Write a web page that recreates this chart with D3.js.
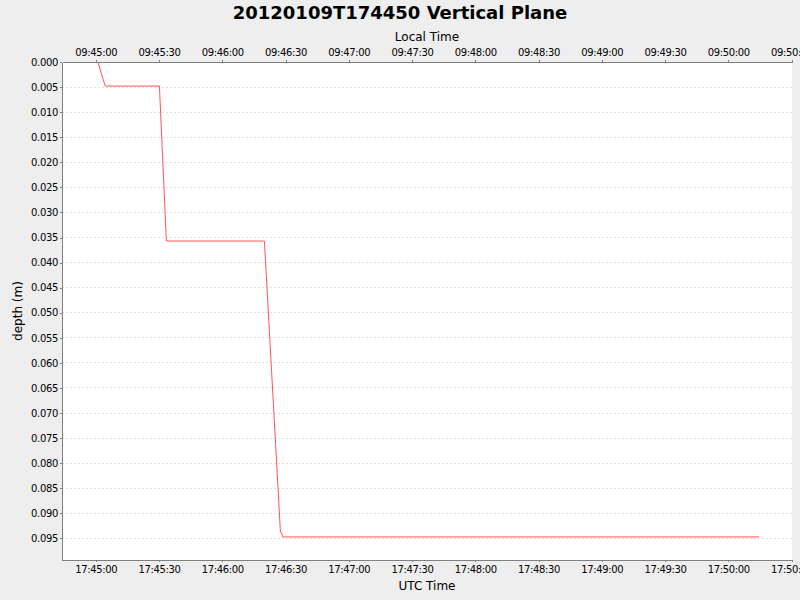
<!DOCTYPE html>
<html>
<head>
<meta charset="utf-8">
<script src="https://cdn.jsdelivr.net/npm/d3@7"></script>
<style>
  body { margin: 0; background: #eeeeee; }
  svg { display: block; font-family: "DejaVu Sans", sans-serif; }
  .tick text { font-family: "DejaVu Sans", sans-serif; font-size: 10px; letter-spacing: -0.35px; fill: #000; }
  .axis-label { font-size: 12px; fill: #000; }
  .chart-title { font-size: 18px; font-weight: bold; fill: #000; }
</style>
</head>
<body>
<div id="chart"></div>
<script>
// samples (UTC)
const sampleTimes = [
  "2012-01-09T17:45:01.0Z",
  "2012-01-09T17:45:04.5Z",
  "2012-01-09T17:45:30.2Z",
  "2012-01-09T17:45:33.5Z",
  "2012-01-09T17:46:20.0Z",
  "2012-01-09T17:46:27.6Z",
  "2012-01-09T17:46:28.2Z",
  "2012-01-09T17:46:28.6Z",
  "2012-01-09T17:50:14.6Z"
];
const sampleDepths = [0.0, 0.0048, 0.0048, 0.0357, 0.0357, 0.0938, 0.0939, 0.0947, 0.0947];

const timeDomain = ["2012-01-09T17:44:44.0Z", "2012-01-09T17:50:30.2Z"];
const depthDomain = [0, 0.0993];
const depthTicks = [0, 0.005, 0.01, 0.015, 0.02, 0.025, 0.03, 0.035, 0.04, 0.045,
  0.05, 0.055, 0.06, 0.065, 0.07, 0.075, 0.08, 0.085, 0.09, 0.095];
const localOffsetHours = -8;

const data = sampleTimes.map((t, i) => ({ time: new Date(t), depth: sampleDepths[i] }));

const width = 800, height = 600;
const plot = { left: 62, right: 792, top: 62, bottom: 560 };

const svg = d3.select("#chart").append("svg")
  .attr("width", width)
  .attr("height", height);

svg.append("rect")
  .attr("width", width).attr("height", height)
  .attr("fill", "#eeeeee");

const x = d3.scaleUtc()
  .domain(timeDomain.map((d) => new Date(d)))
  .range([plot.left, plot.right]);

const y = d3.scaleLinear()
  .domain(depthDomain)
  .range([plot.top, plot.bottom]);

svg.append("rect")
  .attr("x", plot.left).attr("y", plot.top)
  .attr("width", plot.right - plot.left)
  .attr("height", plot.bottom - plot.top)
  .attr("fill", "#ffffff");

// horizontal grid
svg.append("g")
  .selectAll("line")
  .data(depthTicks)
  .join("line")
  .attr("x1", plot.left).attr("x2", plot.right)
  .attr("y1", (d) => y(d)).attr("y2", (d) => y(d))
  .attr("stroke", "#e0e0e0")
  .attr("stroke-width", 1)
  .attr("stroke-dasharray", "2 2")
  .attr("shape-rendering", "crispEdges");

const fmt = d3.utcFormat("%H:%M:%S");
const every30 = d3.utcSecond.every(30);

const styleAxis = (g) => {
  g.attr("font-family", null).attr("font-size", null);
  g.select(".domain").attr("stroke", "#808080").attr("shape-rendering", "crispEdges");
  g.selectAll(".tick line").attr("stroke", "#808080").attr("shape-rendering", "crispEdges");
};

svg.append("g")
  .attr("transform", `translate(0,${plot.bottom})`)
  .call(d3.axisBottom(x).ticks(every30).tickFormat(fmt).tickSize(2).tickSizeOuter(0).tickPadding(4))
  .call(styleAxis);

svg.append("g")
  .attr("transform", `translate(0,${plot.top})`)
  .call(d3.axisTop(x).ticks(every30)
    .tickFormat((d) => fmt(new Date(+d + localOffsetHours * 3600e3)))
    .tickSize(2).tickSizeOuter(0).tickPadding(4))
  .call(styleAxis);

svg.append("g")
  .attr("transform", `translate(${plot.left},0)`)
  .call(d3.axisLeft(y).tickValues(depthTicks).tickFormat(d3.format(".3f")).tickSize(2).tickSizeOuter(0).tickPadding(2))
  .call(styleAxis);

const line = d3.line()
  .x((d) => x(d.time))
  .y((d) => y(d.depth));

svg.append("path")
  .datum(data)
  .attr("fill", "none")
  .attr("stroke", "#ff5555")
  .attr("stroke-width", 1)
  .attr("d", line);

svg.append("text")
  .attr("class", "chart-title")
  .attr("x", width / 2)
  .attr("y", 19)
  .attr("text-anchor", "middle")
  .text("20120109T174450 Vertical Plane");

svg.append("text")
  .attr("class", "axis-label")
  .attr("x", (plot.left + plot.right) / 2)
  .attr("y", 41)
  .attr("text-anchor", "middle")
  .text("Local Time");

svg.append("text")
  .attr("class", "axis-label")
  .attr("x", (plot.left + plot.right) / 2)
  .attr("y", 590)
  .attr("text-anchor", "middle")
  .text("UTC Time");

svg.append("text")
  .attr("class", "axis-label")
  .attr("transform", `translate(22,${(plot.top + plot.bottom) / 2}) rotate(-90)`)
  .attr("text-anchor", "middle")
  .text("depth (m)");
</script>
</body>
</html>
